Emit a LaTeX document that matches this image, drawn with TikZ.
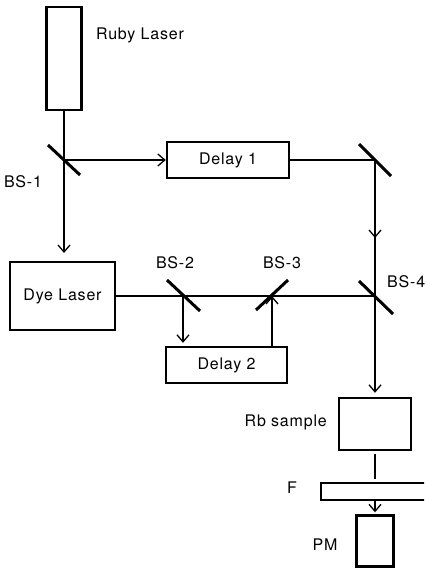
\documentclass[tikz,border=0pt]{standalone}
\usepackage{fontspec}
\setmainfont[LetterSpace=5]{TeX Gyre Heros}
\usetikzlibrary{arrows.meta}
\begin{document}
\begin{tikzpicture}[x=1pt,y=-1pt,
  box/.style={draw,line width=2.4pt,inner sep=0pt,font=\fontsize{16}{18}\selectfont},
  beam/.style={line width=1.3pt},
  mirror/.style={line width=3pt},
  tip/.style={beam,-{Straight Barb[length=7pt,width=12pt,line width=1.3pt]}},
  lbl/.style={inner sep=0pt,font=\fontsize{16}{18}\selectfont}]
\clip (0,0) rectangle (424,569);
% boxes
\node[box,minimum width=35pt,minimum height=103pt] (ruby) at (64,58.5) {};
\node[box,minimum width=122pt,minimum height=36pt] (delay1) at (228,160) {Delay 1};
\node[box,minimum width=105pt,minimum height=68pt] (dye) at (62.5,296) {Dye Laser};
\node[box,minimum width=121pt,minimum height=36pt] (delay2) at (226.5,365) {Delay 2};
\node[box,minimum width=72pt,minimum height=52pt] (rb) at (375,424) {};
\node[box,minimum width=110pt,minimum height=17pt] (filt) at (376,491.5) {};
\node[box,minimum width=37pt,minimum height=51pt] (pm) at (375,541) {};
% beam points
\coordinate (bs1) at (64,160);
\coordinate (m1) at (375,160);
\coordinate (bs2) at (183,296);
\coordinate (bs3) at (272,296);
\coordinate (bs4) at (375,296);
\coordinate (dyein) at (64,253);
\coordinate (mid) at (375,238);
% mirrors
\draw[mirror] ([shift={(-16,-15)}]bs1) -- ([shift={(16,15)}]bs1);
\draw[mirror] ([shift={(-16,-16)}]m1) -- ([shift={(16,16)}]m1);
\draw[mirror] ([shift={(-16,-16)}]bs2) -- ([shift={(17,15)}]bs2);
\draw[mirror] ([shift={(-16,14)}]bs3) -- ([shift={(16,-16)}]bs3);
\draw[mirror] ([shift={(-16,-15)}]bs4) -- ([shift={(18,18)}]bs4);
% labels
\node[lbl] (lruby) at (140,35) {Ruby Laser};
\node[lbl] (lbs1) at (23,182) {BS-1};
\node[lbl] (lbs2) at (175,263) {BS-2};
\node[lbl] (lbs3) at (282,263) {BS-3};
\node[lbl,anchor=west] (lbs4) at (387,282) {BS-4};
\node[lbl,anchor=east] (lrb) at (327,422) {Rb sample};
\node[lbl] (lf) at (292,488) {F};
\node[lbl] (lpm) at (325,545) {PM};
% beams
\draw[beam] (ruby.south) -- (bs1);
\draw[tip] (bs1) -- (dyein);
\draw[tip] (bs1) -- (delay1.west);
\draw[beam] (delay1.east) -- (m1);
\draw[beam] (m1) -- (bs4);
\draw[tip] (m1) -- (mid);
\draw[beam] (dye.east) -- (bs4);
\draw[tip] (bs2) -- ([yshift=3pt]bs2 |- delay2.north);
\draw[tip] (bs3 |- delay2.north) -- (bs3);
\draw[tip] (bs4) -- ([yshift=4pt]rb.north);
\draw[beam] ([yshift=-3pt]rb.south) -- ([yshift=3pt]rb.south |- filt.north);
\draw[tip] (rb.south |- filt.south) -- ([yshift=2pt]pm.north);
\end{tikzpicture}
\end{document}
